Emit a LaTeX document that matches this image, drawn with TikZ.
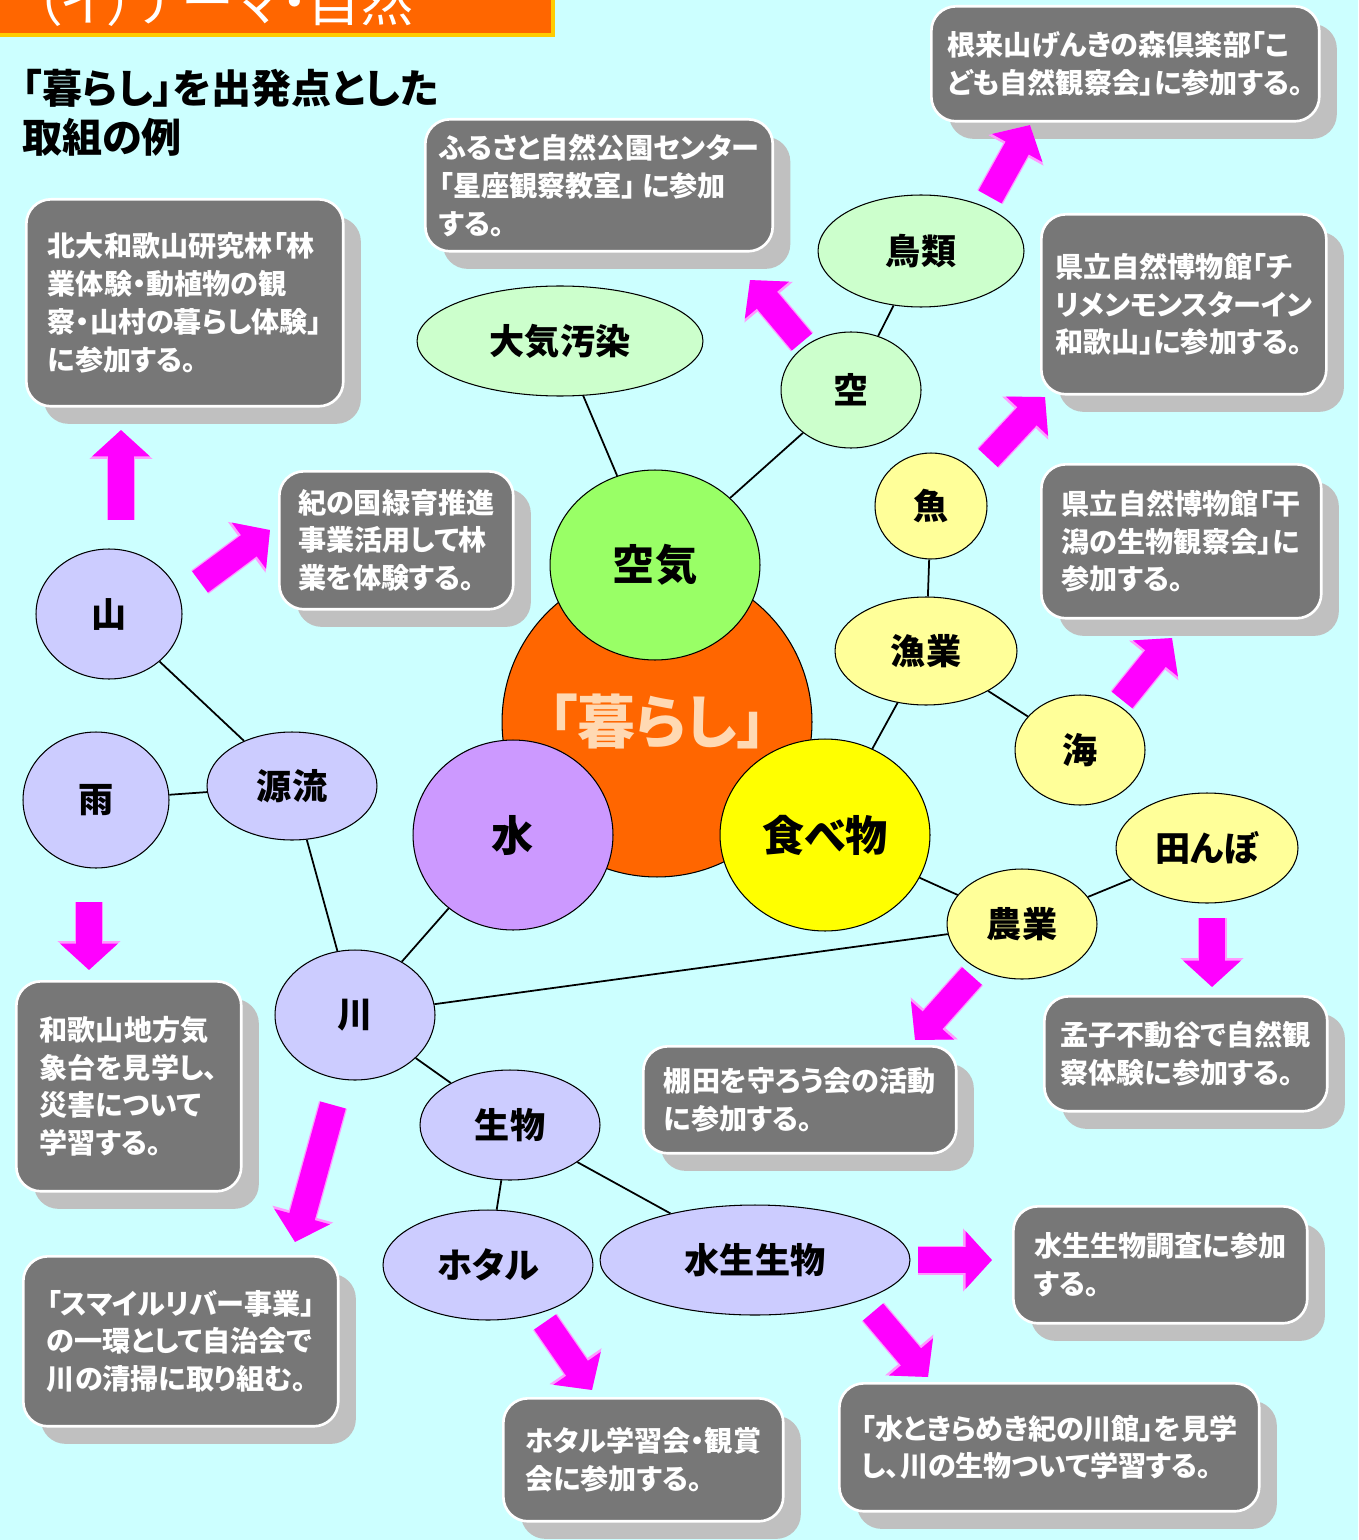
\documentclass[tikz,border=0pt]{standalone}
\usepackage{fontspec}
\setmainfont{Noto Sans CJK JP}[RawFeature=+palt]
\usetikzlibrary{shapes.geometric,shadows,arrows.meta}

\definecolor{bgcyan}{HTML}{CCFFFF}
\definecolor{boxgray}{HTML}{777777}
\definecolor{shadowgray}{HTML}{C0C0C0}
\definecolor{kurashiorange}{HTML}{FF6600}
\definecolor{kurashitext}{HTML}{FFD9B3}
\definecolor{bannerline}{HTML}{FFCC00}
\definecolor{kukigreen}{HTML}{99FF66}
\definecolor{palegreen}{HTML}{CCFFCC}
\definecolor{mizupurple}{HTML}{CC99FF}
\definecolor{lavender}{HTML}{CCCCFF}
\definecolor{foodyellow}{HTML}{FFFF00}
\definecolor{paleyellow}{HTML}{FFFF99}
\definecolor{arrowpink}{HTML}{FF00FF}
\definecolor{arrowedge}{HTML}{FF99FF}

\begin{document}
\begin{tikzpicture}[x=0.02cm,y=-0.02cm,
  topic/.style={ellipse,draw=black,line width=0.6pt,inner sep=0pt,font=\bfseries\fontsize{20}{20}\selectfont},
  bigtopic/.style={topic,font=\bfseries\fontsize{24}{24}\selectfont},
  actbox/.style={rectangle,rounded corners=14pt,fill=boxgray,draw=white,line width=1.5pt,text=white,
    align=left,anchor=north west,inner xsep=8pt,font=\bfseries\fontsize{16}{21.5}\selectfont,
    drop shadow={shadow xshift=10pt,shadow yshift=-10pt,fill=shadowgray,opacity=1}},
  link/.style={draw=black,line width=1pt},
  pinkarrow/.style={draw=arrowpink,line width=15pt,-{Triangle[length=15pt,width=32pt]},
    preaction={draw=arrowedge,line width=16.5pt,-{Triangle[length=16.5pt,width=35pt]}}}]
%\draw[help lines, color=gray!30] (0,0) grid[step=100] (1358,1540);
\clip (0,0) rectangle (1358,1540);
\fill[bgcyan] (0,0) rectangle (1358,1540);

% banner and title
\filldraw[fill=kurashiorange,draw=bannerline,line width=2pt] (-5,-20) rectangle (553,35);
\node[anchor=base west,text=white,inner sep=0pt,font=\fontsize{30}{30}\selectfont] (banner) at (35,22) {（イ）テーマ・自然};
\node[anchor=west,align=left,inner sep=0pt,font=\bfseries\fontsize{22.8}{27.8}\selectfont] (title) at (22,113) {「暮らし」を出発点とした\\取組の例};

% boxes
\node[actbox,minimum width=7.76cm,minimum height=2.3cm] (negoro) at (930,5) {根来山げんきの森倶楽部「こ\\ども自然観察会」に参加する。};
\node[actbox,minimum width=6.86cm,minimum height=2.64cm] (furusato) at (424,118) {ふるさと自然公園センター\\「星座観察教室」 に参加\\する。};
\node[actbox,minimum width=6.34cm,minimum height=4.14cm] (hokudai) at (25,198) {北大和歌山研究林「林\\業体験・動植物の観\\察・山村の暮らし体験」\\に参加する。};
\node[actbox,minimum width=5.56cm,minimum height=3.6cm] (chirimen) at (1040,213) {県立自然博物館「チ\\リメンモンスターイン\\和歌山」に参加する。};
\node[actbox,minimum width=4.68cm,minimum height=2.76cm] (kinokuni) at (278,470) {紀の国緑育推進\\事業活用して林\\業を体験する。};
\node[actbox,minimum width=5.6cm,minimum height=3.08cm] (higata) at (1040,463) {県立自然博物館「干\\潟の生物観察会」に\\参加する。};
\node[actbox,minimum width=4.5cm,minimum height=4.2cm] (kishocho) at (15,980) {和歌山地方気\\象台を見学し、\\災害について\\学習する。};
\node[actbox,minimum width=6.26cm,minimum height=2.14cm] (tanada) at (642,1045) {棚田を守ろう会の活動\\に参加する。};
\node[actbox,minimum width=5.66cm,minimum height=2.3cm] (moushi) at (1043,995) {孟子不動谷で自然観\\察体験に参加する。};
\node[actbox,minimum width=5.88cm,minimum height=2.34cm] (chosa) at (1012,1205) {水生生物調査に参加\\する。};
\node[actbox,minimum width=6.3cm,minimum height=3.4cm] (smile) at (22,1255) {「スマイルリバー事業」\\の一環として自治会で\\川の清掃に取り組む。};
\node[actbox,minimum width=5.6cm,minimum height=2.46cm] (hotaru_kai) at (502,1397) {ホタル学習会・観賞\\会に参加する。};
\node[actbox,minimum width=8.4cm,minimum height=2.56cm] (kinokawa) at (838,1382) {「水ときらめき紀の川館」を見学\\し、川の生物ついて学習する。};

% center
\node[circle,draw=black,line width=0.6pt,fill=kurashiorange,minimum size=6.2cm,inner sep=0pt,text=kurashitext,font=\bfseries\fontsize{33}{33}\selectfont] (kurashi) at (657,722) {「暮らし」};
\node[bigtopic,fill=kukigreen,minimum width=4.2cm,minimum height=3.8cm] (kuki) at (655,565) {空気};
\node[bigtopic,fill=mizupurple,minimum width=4cm,minimum height=3.8cm] (mizu) at (513,835) {水};
\node[bigtopic,fill=foodyellow,minimum width=4.2cm,minimum height=3.84cm] (tabemono) at (825,835) {食べ物};

% air
\node[topic,fill=palegreen,minimum width=5.72cm,minimum height=2.2cm] (taiki) at (560,341) {大気汚染};
\node[topic,fill=palegreen,minimum width=2.8cm,minimum height=2.32cm] (sora) at (851,390) {空};
\node[topic,fill=palegreen,minimum width=4.12cm,minimum height=2.24cm] (chorui) at (921,251) {鳥類};

% food
\node[topic,fill=paleyellow,minimum width=2.24cm,minimum height=2.12cm] (sakana) at (931,506) {魚};
\node[topic,fill=paleyellow,minimum width=3.64cm,minimum height=2.16cm] (gyogyo) at (926,651) {漁業};
\node[topic,fill=paleyellow,minimum width=2.6cm,minimum height=2.2cm] (umi) at (1080,750) {海};
\node[topic,fill=paleyellow,minimum width=3.64cm,minimum height=2.2cm] (tanbo) at (1207,848) {田んぼ};
\node[topic,fill=paleyellow,minimum width=3cm,minimum height=2.2cm] (nogyo) at (1022,924) {農業};

% water
\node[topic,fill=lavender,minimum width=2.92cm,minimum height=2.6cm] (yama) at (109,614) {山};
\node[topic,fill=lavender,minimum width=2.92cm,minimum height=2.72cm] (ame) at (96,800) {雨};
\node[topic,fill=lavender,minimum width=3.4cm,minimum height=2.16cm] (genryu) at (292,786) {源流};
\node[topic,fill=lavender,minimum width=3.2cm,minimum height=2.6cm] (kawa) at (355,1015) {川};
\node[topic,fill=lavender,minimum width=3.6cm,minimum height=2.2cm] (seibutsu) at (510,1125) {生物};
\node[topic,fill=lavender,minimum width=4.2cm,minimum height=2.2cm] (hotaru) at (488,1265) {ホタル};
\node[topic,fill=lavender,minimum width=6.2cm,minimum height=2.2cm] (suisei) at (755,1260) {水生生物};

\draw[link] (kuki) -- (taiki);
\draw[link] (kuki) -- (sora);
\draw[link] (sora) -- (chorui);
\draw[link] (tabemono) -- (gyogyo);
\draw[link] (gyogyo) -- (sakana);
\draw[link] (gyogyo) -- (umi);
\draw[link] (tabemono) -- (nogyo);
\draw[link] (nogyo) -- (tanbo);
\draw[link] (nogyo) -- (kawa);
\draw[link] (mizu) -- (kawa);
\draw[link] (kawa) -- (genryu);
\draw[link] (genryu) -- (yama);
\draw[link] (genryu) -- (ame);
\draw[link] (kawa) -- (seibutsu);
\draw[link] (seibutsu) -- (hotaru);
\draw[link] (seibutsu) -- (suisei);

% pink arrows
\coordinate (a_chorui) at (990,197);   \coordinate (a_negoro) at (1030,125);
\coordinate (a_sora) at (802,342);     \coordinate (a_furusato) at (750,280);
\coordinate (a_sakana) at (988,458);   \coordinate (a_chirimen) at (1045,397);
\coordinate (a_umi) at (1122,700);     \coordinate (a_higata) at (1172,638);
\coordinate (a_tanbo) at (1212,918);   \coordinate (a_moushi) at (1212,987);
\coordinate (a_nogyo) at (972,976);    \coordinate (a_tanada) at (915,1040);
\coordinate (a_yama) at (121,520);     \coordinate (a_hokudai) at (121,430);
\coordinate (a_yama2) at (200,582);    \coordinate (a_kinokuni) at (270,530);
\coordinate (a_ame) at (89,902);       \coordinate (a_kishocho) at (89,970);
\coordinate (a_kawa) at (333,1105);    \coordinate (a_smile) at (295,1242);
\coordinate (a_hotaru) at (545,1322);  \coordinate (a_hotarukai) at (592,1390);
\coordinate (a_suisei) at (918,1260);  \coordinate (a_chosa) at (992,1260);
\coordinate (a_suisei2) at (873,1312); \coordinate (a_kinokawa) at (928,1377);
\draw[pinkarrow] (a_chorui) -- (a_negoro);
\draw[pinkarrow] (a_sora) -- (a_furusato);
\draw[pinkarrow] (a_sakana) -- (a_chirimen);
\draw[pinkarrow] (a_umi) -- (a_higata);
\draw[pinkarrow] (a_tanbo) -- (a_moushi);
\draw[pinkarrow] (a_nogyo) -- (a_tanada);
\draw[pinkarrow] (a_yama) -- (a_hokudai);
\draw[pinkarrow] (a_yama2) -- (a_kinokuni);
\draw[pinkarrow] (a_ame) -- (a_kishocho);
\draw[pinkarrow] (a_kawa) -- (a_smile);
\draw[pinkarrow] (a_hotaru) -- (a_hotarukai);
\draw[pinkarrow] (a_suisei) -- (a_chosa);
\draw[pinkarrow] (a_suisei2) -- (a_kinokawa);
\end{tikzpicture}
\end{document}
